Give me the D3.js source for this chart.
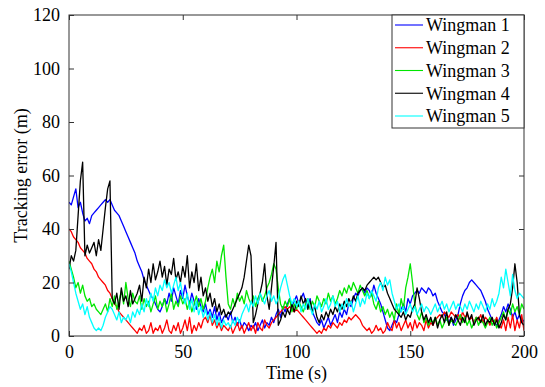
<!DOCTYPE html>
<html>
<head>
<meta charset="utf-8">
<script src="https://cdn.jsdelivr.net/npm/d3@7"></script>
<style>
  html, body { margin: 0; padding: 0; background: #fff; }
  svg { display: block; }
  text { font-family: "Liberation Serif", "Times New Roman", serif; }
</style>
</head>
<body>
<svg id="chart" width="545" height="387"></svg>
<script>
// ---- data (sampled once per second, t = 0..200 s) ----
const seriesNames = ["Wingman 1", "Wingman 2", "Wingman 3", "Wingman 4", "Wingman 5"];
const seriesColors = ["#0000ff", "#ff0000", "#00e600", "#000000", "#00ffff"];
const xTicks = [0, 50, 100, 150, 200];
const yTicks = [0, 20, 40, 60, 80, 100, 120];

const wingman1 = [
  50,49,52,55,48,50,46,43,44,42, 45,46,47,48,49,50,51,50,51,49,
  47,46,45,43,41,39,37,35,33,31, 28,26,24,21,19,17,15,14,12,10,
  9,11,14,12,16,13,18,15,12,17, 14,19,15,12,16,13,10,14,11,9,
  12,8,10,7,11,6,9,5,7,8, 6,9,5,7,4,6,3,5,4,2,
  4,3,5,2,4,6,3,5,4,7, 5,8,10,7,11,9,12,14,11,13,
  15,12,14,16,13,11,14,9,7,5, 4,6,3,5,7,4,6,8,5,9,
  7,10,8,12,11,14,16,15,17,18, 16,18,17,15,19,16,14,12,9,6,
  3,2,4,6,5,8,10,12,9,14, 12,15,16,17,16,18,17,16,18,17,
  15,16,13,11,9,8,6,5,7,4, 6,8,12,15,17,18,20,21,20,19,
  18,17,15,13,10,8,6,5,4,6, 8,11,9,12,10,7,9,6,8,5, 6
];
const wingman2 = [
  40,39,37,36,35,33,32,31,29,28, 27,25,24,22,21,20,19,17,16,14,
  12,11,9,8,7,6,5,4,3,2, 1,3,2,4,1,2,5,1,3,2,
  4,1,3,6,2,1,4,2,5,1, 3,6,2,7,1,4,2,5,3,6,
  7,5,8,4,6,3,5,2,4,3, 2,4,1,3,5,2,4,1,3,5,
  2,4,1,5,3,2,6,4,3,5, 6,7,8,9,10,11,10,11,10,9,
  10,9,8,7,6,5,4,3,2,1, 2,1,3,2,4,3,5,4,3,5,
  4,6,5,7,6,7,8,7,6,4, 3,2,3,1,2,4,2,3,1,2,
  5,3,2,6,3,5,2,4,6,3, 5,2,6,3,5,4,2,6,3,5,
  4,6,7,8,7,9,8,7,9,8, 7,8,6,9,7,8,6,7,5,7,
  6,8,5,7,6,4,6,5,7,4, 3,6,2,7,3,8,2,6,3,8, 2
];
const wingman3 = [
  28,25,22,18,20,16,19,15,13,14, 11,12,10,9,8,10,12,9,14,11,
  15,10,13,17,12,20,14,11,16,13, 12,15,10,14,11,13,9,12,15,10,
  13,11,14,9,12,16,10,13,11,15, 12,14,10,13,9,12,15,11,14,10,
  13,18,22,25,20,28,24,30,34,22, 12,10,14,11,16,13,15,12,17,14,
  12,15,11,14,16,13,15,18,20,23, 27,25,18,12,10,13,11,14,9,12,
  10,13,11,9,12,14,10,13,11,15, 13,11,14,12,16,13,15,12,14,17,
  15,18,16,19,17,20,18,16,19,17, 15,17,14,16,12,10,13,9,11,8,
  10,7,9,6,12,8,14,10,18,22, 27,20,12,8,6,9,5,7,4,6,
  5,7,4,6,3,5,7,4,6,5, 4,6,8,5,7,4,6,3,5,7,
  4,6,5,3,5,7,4,6,3,5, 7,9,6,10,8,12,9,11,8,12, 10
];
const wingman4 = [
  25,30,28,32,45,58,65,30,34,31, 33,35,30,36,32,40,48,55,58,14,
  12,16,10,18,13,15,11,17,12,14, 16,19,13,22,18,25,20,27,21,24,
  28,22,26,19,25,23,29,21,24,20, 26,22,30,18,24,20,27,17,22,15,
  18,13,16,11,14,9,12,8,10,7, 9,8,10,12,14,16,18,22,28,34,
  30,5,8,12,16,20,27,15,10,18, 26,35,4,6,9,7,10,8,12,9,
  13,11,15,12,14,10,13,9,11,7, 5,8,6,9,7,10,8,11,9,12,
  10,13,11,14,12,15,13,16,17,18, 17,19,20,21,22,21,22,20,18,19,
  16,14,12,10,9,8,7,9,6,8, 7,10,12,18,14,9,6,8,5,7,
  4,7,3,6,8,5,9,4,7,5, 8,6,4,7,5,9,6,8,4,6,
  7,5,8,4,6,5,7,4,6,3, 5,8,6,10,12,18,27,20,8,5, 4
];
const wingman5 = [
  27,24,20,16,13,10,12,8,11,7, 5,3,2,3,2,4,7,9,11,10,
  8,6,9,5,7,6,8,5,9,7, 10,8,12,9,14,11,16,13,18,15,
  19,17,21,18,20,16,19,22,17,20, 15,12,16,10,14,9,13,8,11,7,
  10,6,9,5,8,4,7,3,6,4, 5,3,6,4,7,5,8,10,12,9,
  13,11,15,12,16,14,12,15,17,13, 15,12,14,18,21,23,19,15,12,14,
  11,13,9,12,10,14,11,8,12,10, 13,9,11,14,10,12,15,11,13,9,
  12,10,14,11,13,9,12,15,11,14, 12,16,14,17,15,13,18,20,17,22,
  19,21,16,13,10,12,9,11,8,10, 12,9,11,8,10,12,9,11,10,8,
  10,12,9,11,13,10,12,9,11,13, 10,12,11,9,12,10,13,11,9,12,
  10,13,11,9,12,10,14,11,13,16, 22,18,25,20,15,23,17,14,16,15, 14
];
const seriesValues = [wingman1, wingman2, wingman3, wingman4, wingman5];

// ---- layout ----
const svg = d3.select("#chart");
const plot = { left: 69, right: 524, top: 15, bottom: 336 };

const x = d3.scaleLinear().domain([0, 200]).range([plot.left, plot.right]);
const y = d3.scaleLinear().domain([0, 120]).range([plot.bottom, plot.top]);

const fontSize = 18;
const frameColor = "#333";

// clip
svg.append("clipPath").attr("id", "clip")
  .append("rect")
  .attr("x", plot.left).attr("y", plot.top)
  .attr("width", plot.right - plot.left).attr("height", plot.bottom - plot.top);

// lines
const line = d3.line()
  .x((d, i) => x(i))
  .y(d => y(d));

const lines = svg.append("g").attr("clip-path", "url(#clip)");
seriesValues.forEach((vals, k) => {
  lines.append("path")
    .datum(vals)
    .attr("fill", "none")
    .attr("stroke", seriesColors[k])
    .attr("stroke-width", 1.3)
    .attr("stroke-linejoin", "round")
    .attr("d", line);
});

// axes (MATLAB style: ticks inside on all four sides)
const tickLen = 5;
const bottomAxis = d3.axisBottom(x).tickValues(xTicks).tickSize(-tickLen).tickPadding(tickLen + 4).tickFormat(d3.format("d"));
const topAxis = d3.axisTop(x).tickValues(xTicks).tickSize(-tickLen).tickFormat("");
const leftAxis = d3.axisLeft(y).tickValues(yTicks).tickSize(-tickLen).tickPadding(tickLen + 4).tickFormat(d3.format("d"));
const rightAxis = d3.axisRight(y).tickValues(yTicks).tickSize(-tickLen).tickFormat("");

function styleAxis(g) {
  g.select(".domain").remove();
  g.selectAll(".tick line").attr("stroke", frameColor).attr("stroke-width", 1);
  g.selectAll(".tick text")
    .attr("fill", "#000")
    .style("font-family", '"Liberation Serif", "Times New Roman", serif')
    .style("font-size", fontSize + "px");
}

svg.append("g").attr("transform", `translate(0,${plot.bottom})`).call(bottomAxis).call(styleAxis);
svg.append("g").attr("transform", `translate(0,${plot.top})`).call(topAxis).call(styleAxis);
svg.append("g").attr("transform", `translate(${plot.left},0)`).call(leftAxis).call(styleAxis);
svg.append("g").attr("transform", `translate(${plot.right},0)`).call(rightAxis).call(styleAxis);

// frame
svg.append("rect")
  .attr("x", plot.left).attr("y", plot.top)
  .attr("width", plot.right - plot.left).attr("height", plot.bottom - plot.top)
  .attr("fill", "none").attr("stroke", frameColor).attr("stroke-width", 1);

// axis titles
svg.append("text")
  .attr("x", (plot.left + plot.right) / 2)
  .attr("y", 379)
  .attr("text-anchor", "middle")
  .style("font-size", fontSize + "px")
  .text("Time (s)");

svg.append("text")
  .attr("transform", `translate(27,${(plot.top + plot.bottom) / 2}) rotate(-90)`)
  .attr("text-anchor", "middle")
  .style("font-size", fontSize + "px")
  .text("Tracking error (m)");

// legend
const legend = { left: 392, top: 15, right: 524, bottom: 128 };
const lg = svg.append("g");
lg.append("rect")
  .attr("x", legend.left).attr("y", legend.top)
  .attr("width", legend.right - legend.left).attr("height", legend.bottom - legend.top)
  .attr("fill", "#fff").attr("stroke", frameColor).attr("stroke-width", 1);

const rowY = d3.scalePoint().domain(seriesNames).range([25, 116]);
seriesNames.forEach((name, k) => {
  const yy = rowY(name);
  lg.append("line")
    .attr("x1", 395).attr("x2", 423)
    .attr("y1", yy).attr("y2", yy)
    .attr("stroke", seriesColors[k]).attr("stroke-width", 1.1);
  lg.append("text")
    .attr("x", 426).attr("y", yy)
    .attr("dy", "0.35em")
    .style("font-size", fontSize + "px")
    .text(name);
});
</script>
</body>
</html>
